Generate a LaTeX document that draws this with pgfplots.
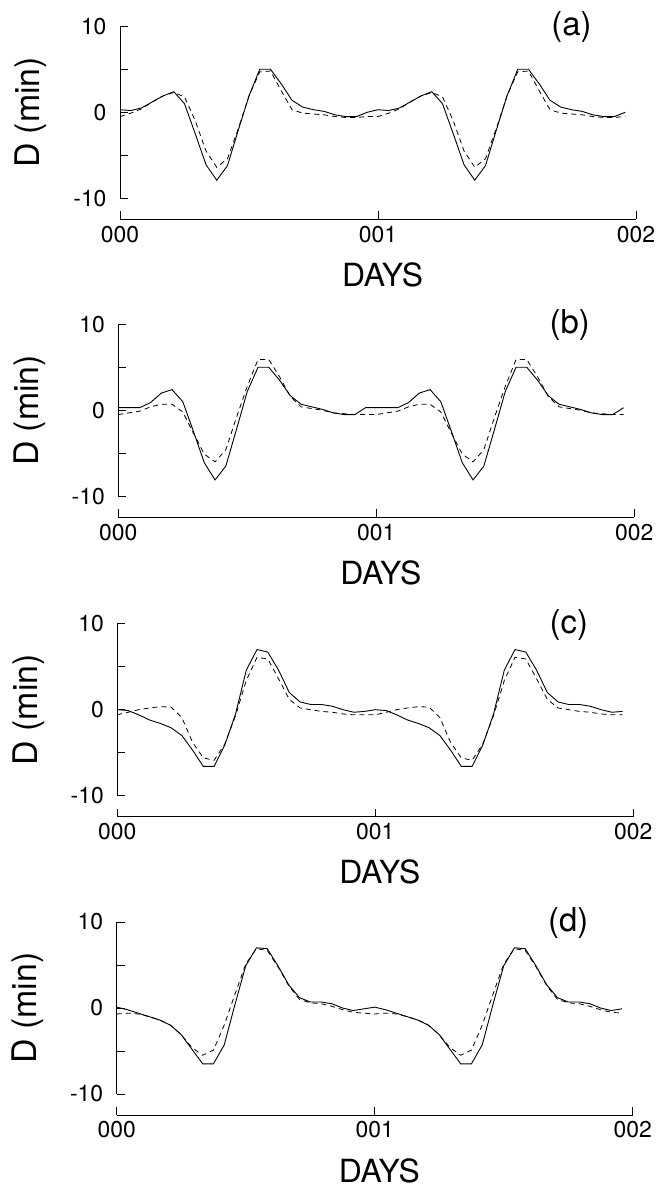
\documentclass[border=0pt]{standalone}
\usepackage{fontspec}
\setmainfont{TeX Gyre Heros}
\usepackage{pgfplots}
\usepackage{pgfplotstable}
\pgfplotsset{compat=1.18}

% hour  solid  dashed
\pgfplotstableread{
h s d
0 0.3 -0.5
1 0.2 -0.1
2 0.5 0.4
3 1.2 1.2
4 1.9 1.9
5 2.4 2.3
6 1.0 1.8
7 -2.5 -1.0
8 -6.1 -4.5
9 -7.9 -6.4
10 -6.2 -5.4
11 -2.1 -1.9
12 1.9 1.9
13 5.0 4.7
14 5.0 4.8
15 3.3 2.5
16 1.4 0.3
17 0.6 -0.1
18 0.3 -0.2
19 0.1 -0.3
20 -0.3 -0.5
21 -0.5 -0.6
22 -0.5 -0.6
23 0.0 -0.5
24 0.3 -0.5
25 0.2 -0.1
26 0.5 0.4
27 1.2 1.2
28 1.9 1.9
29 2.4 2.3
30 1.0 1.8
31 -2.5 -1.0
32 -6.1 -4.5
33 -7.9 -6.4
34 -6.2 -5.4
35 -2.1 -1.9
36 1.9 1.9
37 5.0 4.7
38 5.0 4.8
39 3.3 2.5
40 1.4 0.3
41 0.6 -0.1
42 0.3 -0.2
43 0.1 -0.3
44 -0.3 -0.5
45 -0.5 -0.6
46 -0.5 -0.6
47 0.0 -0.5
}\dataA

\pgfplotstableread{
h s d
0 0.3 -0.5
1 0.3 -0.3
2 0.3 -0.1
3 0.9 0.4
4 2.0 0.7
5 2.4 0.7
6 1.0 -0.2
7 -2.5 -2.7
8 -6.1 -5.1
9 -8.1 -6.0
10 -6.5 -4.6
11 -2.2 -0.8
12 2.2 2.8
13 5.0 5.9
14 5.0 5.9
15 3.5 3.9
16 1.7 1.6
17 0.7 0.4
18 0.4 0.2
19 0.1 0.0
20 -0.3 -0.3
21 -0.5 -0.4
22 -0.5 -0.5
23 0.3 -0.5
24 0.3 -0.5
25 0.3 -0.3
26 0.3 -0.1
27 0.9 0.4
28 2.0 0.7
29 2.4 0.7
30 1.0 -0.2
31 -2.5 -2.7
32 -6.1 -5.1
33 -8.1 -6.0
34 -6.5 -4.6
35 -2.2 -0.8
36 2.2 2.8
37 5.0 5.9
38 5.0 5.9
39 3.5 3.9
40 1.7 1.6
41 0.7 0.4
42 0.4 0.2
43 0.1 0.0
44 -0.3 -0.3
45 -0.5 -0.4
46 -0.5 -0.5
47 0.3 -0.5
}\dataB

\pgfplotstableread{
h s d
0 0.0 -0.6
1 -0.1 -0.3
2 -0.6 0.0
3 -1.2 0.2
4 -1.6 0.35
5 -2.1 0.3
6 -3.0 -0.9
7 -4.7 -3.8
8 -6.6 -5.6
9 -6.6 -5.9
10 -4.1 -4.0
11 -0.5 -0.7
12 4.6 3.4
13 7.0 6.1
14 6.7 5.9
15 4.6 3.6
16 2.0 1.2
17 0.9 0.2
18 0.6 0.0
19 0.6 -0.2
20 0.4 -0.3
21 0.0 -0.5
22 -0.3 -0.6
23 -0.2 -0.6
24 0.0 -0.6
25 -0.1 -0.3
26 -0.6 0.0
27 -1.2 0.2
28 -1.6 0.35
29 -2.1 0.3
30 -3.0 -0.9
31 -4.7 -3.8
32 -6.6 -5.6
33 -6.6 -5.9
34 -4.1 -4.0
35 -0.5 -0.7
36 4.6 3.4
37 7.0 6.1
38 6.7 5.9
39 4.6 3.6
40 2.0 1.2
41 0.9 0.2
42 0.6 0.0
43 0.6 -0.2
44 0.4 -0.3
45 0.0 -0.5
46 -0.3 -0.6
47 -0.2 -0.6
}\dataC

\pgfplotstableread{
h s d
0 0.1 -0.7
1 -0.2 -0.6
2 -0.6 -0.7
3 -1.0 -1.0
4 -1.4 -1.4
5 -2.0 -2.0
6 -3.1 -3.1
7 -4.8 -4.6
8 -6.5 -5.5
9 -6.5 -4.9
10 -4.3 -2.0
11 0.4 1.6
12 4.9 5.1
13 7.0 6.9
14 6.9 6.7
15 4.9 4.8
16 2.7 2.6
17 1.2 1.0
18 0.7 0.6
19 0.7 0.5
20 0.5 0.2
21 0.0 -0.2
22 -0.3 -0.5
23 -0.1 -0.6
24 0.1 -0.7
25 -0.2 -0.6
26 -0.6 -0.7
27 -1.0 -1.0
28 -1.4 -1.4
29 -2.0 -2.0
30 -3.1 -3.1
31 -4.8 -4.6
32 -6.5 -5.5
33 -6.5 -4.9
34 -4.3 -2.0
35 0.4 1.6
36 4.9 5.1
37 7.0 6.9
38 6.9 6.7
39 4.9 4.8
40 2.7 2.6
41 1.2 1.0
42 0.7 0.6
43 0.7 0.5
44 0.5 0.2
45 0.0 -0.2
46 -0.3 -0.5
47 -0.1 -0.6
}\dataD

\pgfplotsset{
  panel/.style={
    scale only axis, width=516bp, height=193bp,
    anchor=south west,
    xmin=0, xmax=48, ymin=-12.45, ymax=10,
    axis lines*=left,
    axis line style={draw=none},
    clip=false,
    xtick={0,24,48}, xticklabels={000,001,002},
    ytick={-10,-5,0,5,10}, yticklabels={-10,,0,,10},
    tick align=inside,
    major tick length=8bp,
    tick style={black, line width=0.9bp},
    ticklabel style={font=\fontsize{23}{27}\selectfont},
    yticklabel style={xshift=-10bp},
    xticklabel style={yshift=-3bp},
    xlabel={DAYS}, ylabel={D (min)},
    every axis x label/.style={at={(axis description cs:0.509,-0.288)}, anchor=center, font=\fontsize{32}{36}\selectfont},
    every axis y label/.style={at={(axis description cs:-0.1725,0.554)}, rotate=90, anchor=center, font=\fontsize{34}{38}\selectfont},
  },
  sol/.style={black, line width=0.9bp, solid},
  das/.style={black, line width=0.8bp, dash pattern=on 5bp off 4bp},
}

\newcommand{\panelframe}{%
  \draw[black, line width=0.9bp] (axis cs:0,-10) -- (axis cs:0,10);
  \draw[black, line width=0.9bp] (axis cs:0,-12.45) -- (axis cs:48,-12.45);
}

\begin{document}
\begin{tikzpicture}
\begin{axis}[panel, at={(120bp,-219.3bp)}]
  \panelframe
  \addplot[sol] table[x=h, y=s] {\dataA};
  \addplot[das] table[x=h, y=d] {\dataA};
  \node[font=\fontsize{33}{37}\selectfont] at (axis cs:42,9.9) {(a)};
\end{axis}
\begin{axis}[panel, at={(118.3bp,-517.3bp)}]
  \panelframe
  \addplot[sol] table[x=h, y=s] {\dataB};
  \addplot[das] table[x=h, y=d] {\dataB};
  \node[font=\fontsize{33}{37}\selectfont] at (axis cs:42,9.9) {(b)};
\end{axis}
\begin{axis}[panel, at={(117.3bp,-816.7bp)}]
  \panelframe
  \addplot[sol] table[x=h, y=s] {\dataC};
  \addplot[das] table[x=h, y=d] {\dataC};
  \node[font=\fontsize{33}{37}\selectfont] at (axis cs:42,9.9) {(c)};
\end{axis}
\begin{axis}[panel, at={(116.7bp,-1115bp)}]
  \panelframe
  \addplot[sol] table[x=h, y=s] {\dataD};
  \addplot[das] table[x=h, y=d] {\dataD};
  \node[font=\fontsize{33}{37}\selectfont] at (axis cs:42,9.9) {(d)};
\end{axis}
\pgfresetboundingbox
\path[use as bounding box] (0bp,0bp) rectangle (659bp,-1187bp);
\end{tikzpicture}
\end{document}
